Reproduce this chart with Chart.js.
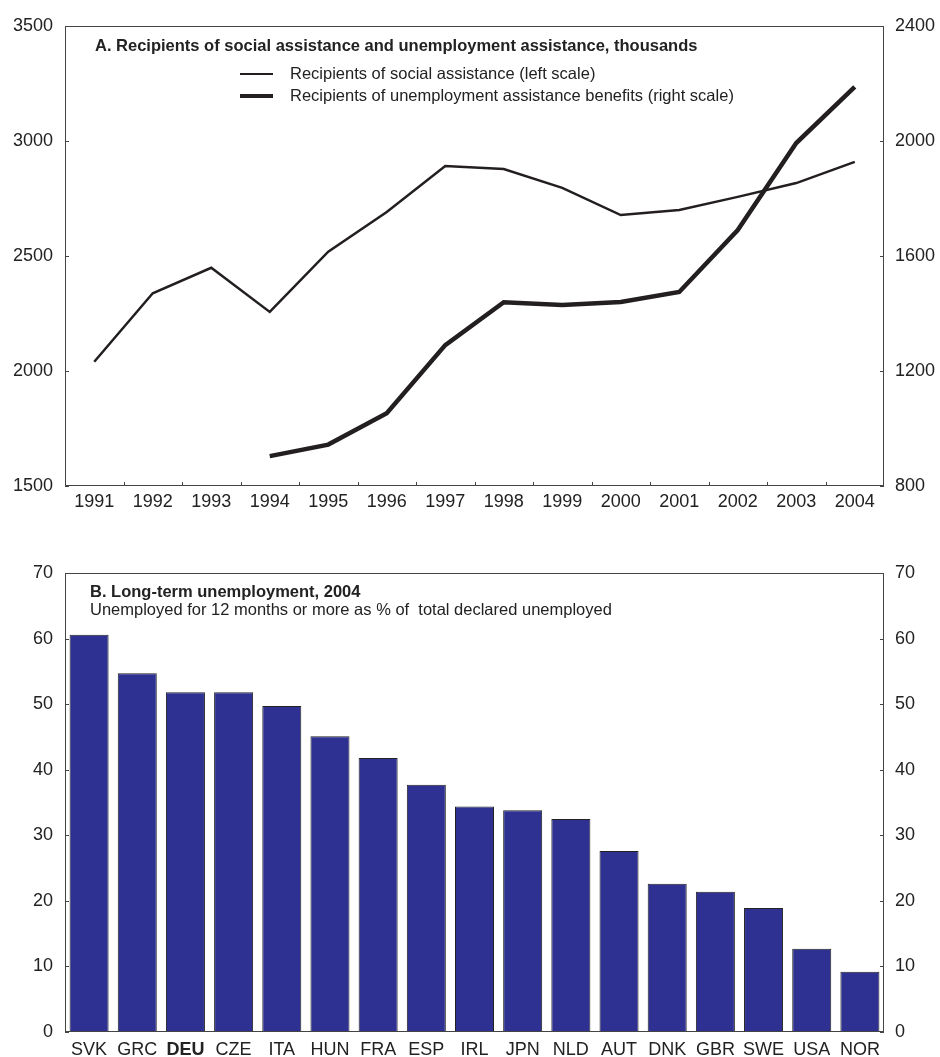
<!DOCTYPE html>
<html>
<head>
<meta charset="utf-8">
<title>Social assistance and long-term unemployment</title>
<script src="https://cdn.jsdelivr.net/npm/chart.js@4/dist/chart.umd.min.js"></script>
<style>
  body { margin: 0; background: #fff; font-family: 'Liberation Sans', Arial, sans-serif; color: #222; }
  #wrap { position: relative; width: 940px; height: 1057px; overflow: hidden; }
  .box { position: absolute; left: 0; width: 940px; }
  .note { position: absolute; font-size: 16.5px; line-height: 18px; color: #222; white-space: nowrap; }
  .note b { font-weight: bold; }
  .key { position: absolute; left: 240px; height: 19px; display: flex; align-items: center; font-size: 16.5px; white-space: nowrap; color: #222; }
  .key span.sw { display: inline-block; width: 33px; background: #231f20; margin-right: 17px; }
</style>
</head>
<body>
<div id="wrap">
  <div class="box" style="top:0;height:530px"><canvas id="topChart" width="940" height="530"></canvas></div>
  <div class="box" style="top:530px;height:527px"><canvas id="barChart" width="940" height="527"></canvas></div>

  <div class="note" style="left:95px;top:36px"><b>A. Recipients of social assistance and unemployment assistance, thousands</b></div>
  <div class="key" style="top:64px"><span class="sw" style="height:2px"></span>Recipients of social assistance (left scale)</div>
  <div class="key" style="top:86px"><span class="sw" style="height:4px"></span>Recipients of unemployment assistance benefits (right scale)</div>

  <div class="note" style="left:90px;top:582px"><b>B. Long-term unemployment, 2004</b><br>Unemployed for 12 months or more as % of &nbsp;total declared unemployed</div>
</div>

<script>
// panel A: recipients, thousands
const years = ['1991', '1992', '1993', '1994', '1995', '1996', '1997', '1998', '1999', '2000', '2001', '2002', '2003', '2004'];
const socialAssistance = [2040, 2338, 2449, 2257, 2519, 2691, 2891, 2878, 2796, 2678, 2700, 2757, 2817, 2909];
const unemploymentAssistance = [null, null, null, 904, 944, 1053, 1290, 1439, 1430, 1440, 1475, 1690, 1993, 2188];

// panel B: long-term unemployed, % of total declared unemployed
const countries = ['SVK', 'GRC', 'DEU', 'CZE', 'ITA', 'HUN', 'FRA', 'ESP', 'IRL', 'JPN', 'NLD', 'AUT', 'DNK', 'GBR', 'SWE', 'USA', 'NOR'];
const longTermShare = [60.6, 54.7, 51.8, 51.8, 49.7, 45.1, 41.8, 37.7, 34.4, 33.8, 32.5, 27.6, 22.6, 21.4, 18.9, 12.7, 9.2];

const FONT = "'Liberation Sans', Arial, sans-serif";
const INK = '#231f20';
const AXIS = '#444';

// box round the plot area plus short tick marks pointing inwards
const frameAndTicks = {
  id: 'frameAndTicks',
  afterDraw(chart, args, opts) {
    const { ctx, chartArea: a, scales } = chart;
    ctx.save();
    ctx.strokeStyle = AXIS;
    ctx.lineWidth = 1;
    ctx.strokeRect(Math.round(a.left) + 0.5, Math.round(a.top) + 0.5,
      Math.round(a.right - a.left) - 1, Math.round(a.bottom - a.top) - 1);
    ctx.beginPath();
    ['y', 'y1'].forEach(id => {
      const s = scales[id];
      s.ticks.forEach((t, i) => {
        const py = Math.round(s.getPixelForTick(i)) + 0.5;
        if (id === 'y') { ctx.moveTo(a.left, py); ctx.lineTo(a.left + 4, py); }
        else { ctx.moveTo(a.right, py); ctx.lineTo(a.right - 4, py); }
      });
    });
    if (opts.xTicks) {
      const s = scales.x;
      for (let i = 1; i < s.ticks.length; i++) {
        const px = Math.round((s.getPixelForTick(i - 1) + s.getPixelForTick(i)) / 2) + 0.5;
        ctx.moveTo(px, a.bottom);
        ctx.lineTo(px, a.bottom - 4);
      }
    }
    ctx.stroke();
    ctx.restore();
  }
};

function valueAxis(position, min, max, step, width, pad) {
  return {
    type: 'linear',
    position: position,
    min: min,
    max: max,
    grid: { display: false, drawTicks: false },
    border: { display: false },
    ticks: {
      stepSize: step,
      padding: pad,
      color: '#222',
      font: { family: FONT, size: 18 },
      callback: v => String(v)
    },
    afterFit: s => { s.width = width; }
  };
}

Chart.defaults.animation = false;

new Chart(document.getElementById('topChart'), {
  type: 'line',
  data: {
    labels: years,
    datasets: [{
      label: 'Recipients of social assistance (left scale)',
      data: socialAssistance,
      borderColor: INK,
      borderWidth: 2.5,
      pointRadius: 0,
      tension: 0,
      yAxisID: 'y'
    }, {
      label: 'Recipients of unemployment assistance benefits (right scale)',
      data: unemploymentAssistance,
      borderColor: INK,
      borderWidth: 4.5,
      pointRadius: 0,
      tension: 0,
      yAxisID: 'y1'
    }]
  },
  options: {
    responsive: false,
    layout: { padding: { top: 26, left: 0, right: 0, bottom: 0 } },
    plugins: { legend: { display: false }, tooltip: { enabled: false }, frameAndTicks: { xTicks: true } },
    scales: {
      x: {
        offset: true,
        grid: { display: false, drawTicks: false },
        border: { display: false },
        ticks: { padding: 5, color: '#222', maxRotation: 0, autoSkip: false, font: { family: FONT, size: 18 } },
        afterFit: s => { s.height = 44; }
      },
      y: valueAxis('left', 1500, 3500, 500, 65, 12),
      y1: valueAxis('right', 800, 2400, 400, 56, 11)
    }
  },
  plugins: [frameAndTicks]
});

new Chart(document.getElementById('barChart'), {
  type: 'bar',
  data: {
    labels: countries,
    datasets: [{
      label: 'Long-term unemployment, 2004',
      data: longTermShare,
      backgroundColor: '#2e3192',
      borderColor: '#222',
      borderWidth: 1,
      barPercentage: 0.81,
      categoryPercentage: 1.0,
      yAxisID: 'y'
    }]
  },
  options: {
    responsive: false,
    layout: { padding: { top: 43, left: 0, right: 0, bottom: 0 } },
    plugins: { legend: { display: false }, tooltip: { enabled: false }, frameAndTicks: { xTicks: false } },
    scales: {
      x: {
        grid: { display: false, drawTicks: false },
        border: { display: false },
        ticks: {
          padding: 7,
          color: '#222',
          maxRotation: 0,
          autoSkip: false,
          font: ctx => ({ family: FONT, size: 18, weight: countries[ctx.index] === 'DEU' ? 'bold' : 'normal' })
        },
        afterFit: s => { s.height = 25; }
      },
      y: valueAxis('left', 0, 70, 10, 65, 12),
      y1: valueAxis('right', 0, 70, 10, 56, 11)
    }
  },
  plugins: [frameAndTicks]
});
</script>
</body>
</html>
